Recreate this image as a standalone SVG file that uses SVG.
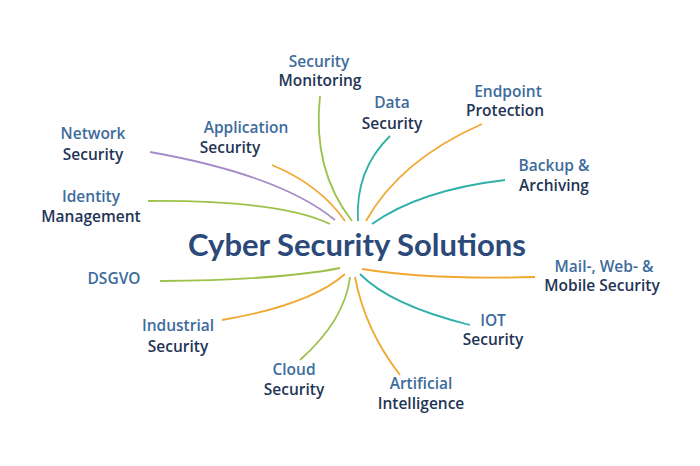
<svg xmlns="http://www.w3.org/2000/svg" width="700" height="466" viewBox="0 0 700 466">
<style>
text{font-family:"Open Sans",Lato,sans-serif;font-weight:600;font-size:15.5px;text-anchor:middle}
.a{fill:#3d6c9c}.b{fill:#1f3556}
.c path{fill:none;stroke-width:1.8}
.o{stroke:#f0a830}.g{stroke:#9cc24a}.t{stroke:#2fb0a8}.p{stroke:#a58cc8}
</style>
<rect width="700" height="466" fill="#fff"/>
<g id="connectors" class="c">
<path class="p" d="M150,152 Q280,175 335,220"/>
<path class="g" d="M148,201 Q280,200 330,224"/>
<path class="o" d="M272,165 Q320,185 345,221"/>
<path class="g" d="M320,96 Q312,170 352,221"/>
<path class="t" d="M390,136 Q355,170 358,221"/>
<path class="o" d="M482,124 Q400,160 366,221"/>
<path class="t" d="M505,180 Q420,190 372,224"/>
<path class="o" d="M535,277 Q430,280 362,269"/>
<path class="g" d="M160,281 Q280,280 340,268"/>
<path class="o" d="M222,320 Q310,305 345,274"/>
<path class="g" d="M300,360 Q345,320 350,277"/>
<path class="o" d="M400,375 Q365,330 355,277"/>
<path class="t" d="M470,325 Q390,305 360,274"/>
</g>
<g id="title"><text x="357" y="256" style="font-family:Lato,sans-serif;font-weight:bold;font-size:31px;fill:#2b4a7a">Cyber Security Solutions</text></g>
<g id="n1"><text class="a" x="93" y="139">Network</text><text class="b" x="93" y="160">Security</text></g>
<g id="n2"><text class="a" x="91" y="202">Identity</text><text class="b" x="91" y="222">Management</text></g>
<g id="n3"><text class="a" x="246" y="133">Application</text><text class="b" x="230" y="153">Security</text></g>
<g id="n4"><text class="a" x="319" y="67">Security</text><text class="b" x="320" y="86">Monitoring</text></g>
<g id="n5"><text class="a" x="392" y="108">Data</text><text class="b" x="392" y="129">Security</text></g>
<g id="n6"><text class="a" x="508" y="97">Endpoint</text><text class="b" x="505" y="116">Protection</text></g>
<g id="n7"><text class="a" x="554" y="171">Backup &amp;</text><text class="b" x="554" y="191">Archiving</text></g>
<g id="n8"><text class="a" x="604" y="272">Mail-, Web- &amp;</text><text class="b" x="602" y="291">Mobile Security</text></g>
<g id="n9"><text class="a" x="114" y="284">DSGVO</text></g>
<g id="n10"><text class="a" x="178" y="331">Industrial</text><text class="b" x="178" y="352">Security</text></g>
<g id="n11"><text class="a" x="493" y="326">IOT</text><text class="b" x="493" y="345">Security</text></g>
<g id="n12"><text class="a" x="294" y="375">Cloud</text><text class="b" x="294" y="395">Security</text></g>
<g id="n13"><text class="a" x="421" y="389">Artificial</text><text class="b" x="421" y="409">Intelligence</text></g>
</svg>
